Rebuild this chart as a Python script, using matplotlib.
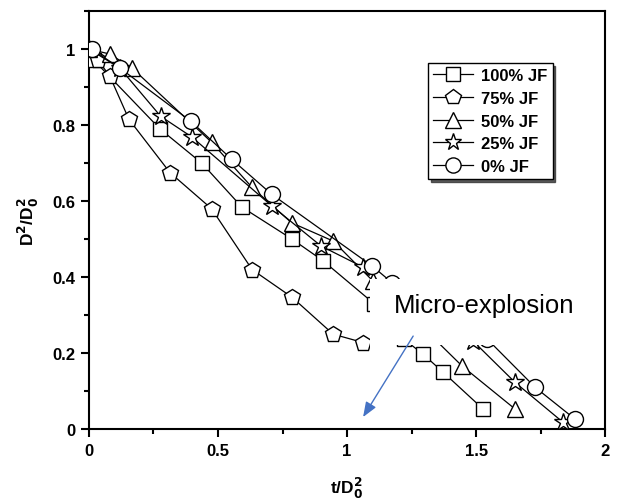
import matplotlib
matplotlib.use("Agg")
import matplotlib.pyplot as plt
from matplotlib.patches import Polygon
from matplotlib.ticker import MultipleLocator

plt.rcParams['font.family'] = ['Liberation Sans', 'DejaVu Sans']

# ---- data ----
labels = ["100% JF", "75% JF", "50% JF", "25% JF", "0% JF"]
markers = ["s", "p", "^", "*", "o"]

# before micro-explosion
sq_x1 = [0.0, 0.02, 0.275, 0.437, 0.593, 0.787, 0.907, 1.105]
sq_y1 = [1.0, 0.97, 0.79, 0.70, 0.584, 0.50, 0.443, 0.33]
pe_x1 = [0.0, 0.035, 0.08, 0.155, 0.314, 0.475, 0.632, 0.787, 0.946, 1.062]
pe_y1 = [1.0, 0.97, 0.93, 0.815, 0.675, 0.58, 0.42, 0.347, 0.25, 0.228]
tr_x1 = [0.0, 0.08, 0.167, 0.475, 0.632, 0.785, 0.946, 1.10]
tr_y1 = [1.0, 0.987, 0.95, 0.755, 0.636, 0.543, 0.495, 0.39]
st_x1 = [0.0, 0.12, 0.278, 0.398, 0.709, 0.899, 1.06]
st_y1 = [1.0, 0.95, 0.823, 0.769, 0.587, 0.482, 0.427]
ci_x1 = [0.01, 0.12, 0.395, 0.553, 0.708, 1.096, 1.175]
ci_y1 = [1.0, 0.95, 0.81, 0.71, 0.618, 0.43, 0.385]

# after micro-explosion
sq_x2 = [1.22, 1.295, 1.372, 1.527]
sq_y2 = [0.237, 0.197, 0.15, 0.053]
tr_x2 = [1.32, 1.446, 1.651]
tr_y2 = [0.25, 0.166, 0.053]
st_x2 = [1.488, 1.651, 1.837]
st_y2 = [0.232, 0.123, 0.018]
ci_x2 = [1.543, 1.729, 1.884]
ci_y2 = [0.237, 0.11, 0.026]

seg1 = [(sq_x1, sq_y1), (pe_x1, pe_y1), (tr_x1, tr_y1), (st_x1, st_y1), (ci_x1, ci_y1)]
seg2 = [(sq_x2, sq_y2), None, (tr_x2, tr_y2), (st_x2, st_y2), (ci_x2, ci_y2)]

xticks = [0, 0.5, 1, 1.5, 2]
xticklabels = ["0", "0.5", "1", "1.5", "2"]
yticks = [0, 0.2, 0.4, 0.6, 0.8, 1.0]
yticklabels = ["0", "0.2", "0.4", "0.6", "0.8", "1"]

fig = plt.figure(figsize=(6.22, 5.02), dpi=100)
ax = fig.add_axes([0.143, 0.143, 0.83, 0.833])

msizes = {"s": 10.5, "p": 12, "^": 11.5, "*": 13.5, "o": 11.5}
handles = []
for i, lab in enumerate(labels):
    m = markers[i]
    kw = dict(color="black", lw=0.9, marker=m, markersize=msizes[m],
              markerfacecolor="white", markeredgecolor="black", markeredgewidth=1.0)
    x, y = seg1[i]
    h, = ax.plot(x, y, label=lab, zorder=3, **kw)
    handles.append(h)
    if seg2[i] is not None:
        x2, y2 = seg2[i]
        ax.plot(x2, y2, zorder=3, **kw)

# white text box that covers part of the curves (as in the original)
box = Polygon([(1.089, 0.395), (1.95, 0.395), (1.95, 0.222), (1.19, 0.222),
               (1.19, 0.195), (1.089, 0.195)], closed=True,
              facecolor="white", edgecolor="none", zorder=4)
ax.add_patch(box)

ax.text(1.53, 0.328, "Micro-explosion", fontsize=18.5, ha="center", va="center",
        zorder=6)
ax.annotate("", xy=(1.062, 0.032), xytext=(1.256, 0.245),
            arrowprops=dict(arrowstyle="-|>,head_length=0.9,head_width=0.35",
                            color="#4472C4", lw=1.0, shrinkA=0, shrinkB=0),
            zorder=6)

ax.set_xlim(0, 2)
ax.set_ylim(0, 1.1)
ax.set_xticks(xticks)
ax.set_xticklabels(xticklabels)
ax.set_yticks(yticks)
ax.set_yticklabels(yticklabels)
ax.xaxis.set_minor_locator(MultipleLocator(0.25))
ax.yaxis.set_minor_locator(MultipleLocator(0.1))
ax.tick_params(which="major", direction="out", length=6, width=1.5,
               labelsize=12, pad=4)
ax.tick_params(which="minor", direction="out", length=3.5, width=1.5)
for t in ax.get_xticklabels() + ax.get_yticklabels():
    t.set_fontweight("bold")
for s in ax.spines.values():
    s.set_linewidth(1.5)

ax.set_xlabel(r"t/D$_\mathbf{0}^\mathbf{2}$", fontsize=12.5, fontweight="bold",
              labelpad=12)
ax.set_ylabel(r"D$^\mathbf{2}$/D$_\mathbf{0}^\mathbf{2}$", fontsize=12.5,
              fontweight="bold", labelpad=8)

leg = ax.legend(handles=handles, loc="upper left", bbox_to_anchor=(0.657, 0.875),
                frameon=True, fancybox=False, shadow={"color": "0.2", "alpha": 0.8},
                prop={"weight": "bold", "size": 12},
                handlelength=2.4, handletextpad=0.5, labelspacing=0.46,
                borderpad=0.3, borderaxespad=0, markerscale=0.95)
leg.get_frame().set_edgecolor("black")
leg.get_frame().set_linewidth(1.0)
leg.set_zorder(7)

fig.savefig("out.png", dpi=100)
